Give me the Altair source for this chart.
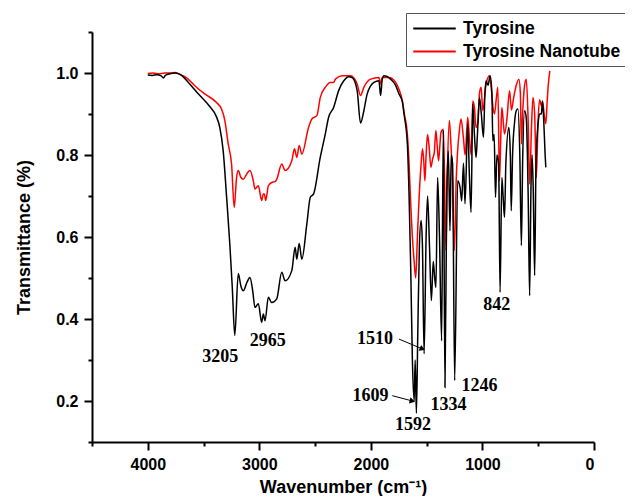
import altair as alt
import pandas as pd

# ---- data ----
tyr_wn = [4000, 3960, 3920, 3880, 3860, 3840, 3800, 3760, 3730, 3700, 3640, 3550, 3450, 3384, 3354,
          3324, 3294, 3264, 3243, 3220, 3189, 3165, 3144, 3110, 3084, 3060, 3039, 3009, 2979, 2964,
          2949, 2919, 2889, 2844, 2799, 2769, 2709, 2679, 2664, 2643, 2619, 2574, 2543, 2514, 2454,
          2409, 2379, 2334, 2289, 2243, 2198, 2168, 2123, 2093, 2063, 2033, 1973, 1928, 1913, 1898,
          1883, 1823, 1778, 1748, 1718, 1703, 1673, 1658, 1643, 1628, 1612, 1603, 1592, 1580, 1565,
          1550, 1538, 1523, 1505, 1492, 1475, 1458, 1441, 1428, 1417, 1402, 1385, 1366, 1351, 1336,
          1320, 1306, 1291, 1280, 1268, 1249, 1222, 1200, 1186, 1170, 1156, 1132, 1117, 1102, 1087,
          1072, 1057, 1045, 1027, 1010, 991, 978, 967, 950, 931, 915, 907, 895, 883, 870,
          855, 842, 826, 815, 802, 790, 763, 750, 742, 730, 712, 697, 682, 665, 651,
          640, 622, 607, 590, 577, 565, 555, 545, 532, 520, 500, 487, 472, 462, 450,
          438, 432]
tyr_t = [0.995, 0.994, 0.996, 0.993, 0.988, 0.995, 0.998, 1.0, 0.999, 0.995, 0.978, 0.95, 0.92, 0.893, 0.867,
         0.81, 0.70, 0.58, 0.48, 0.36, 0.511, 0.48, 0.469, 0.49, 0.501, 0.47, 0.428, 0.437, 0.392, 0.412,
         0.396, 0.453, 0.44, 0.449, 0.514, 0.493, 0.518, 0.575, 0.546, 0.584, 0.546, 0.632, 0.697, 0.705, 0.794,
         0.851, 0.892, 0.916, 0.957, 0.981, 0.991, 0.989, 0.957, 0.878, 0.908, 0.949, 0.977, 0.981, 0.945, 0.985,
         0.993, 0.985, 0.97, 0.949, 0.93, 0.90, 0.827, 0.705, 0.526, 0.30, 0.20, 0.30, 0.17, 0.36, 0.58,
         0.64, 0.58, 0.315, 0.60, 0.70, 0.58, 0.445, 0.54, 0.50, 0.477, 0.745, 0.60, 0.347, 0.86, 0.233,
         0.70, 0.81, 0.615, 0.80, 0.78, 0.25, 0.737, 0.72, 0.688, 0.78, 0.681, 0.876, 0.75, 0.66, 0.924,
         0.85, 0.794, 0.85, 0.94, 0.90, 0.843, 0.95, 0.981, 0.97, 0.993, 0.95, 0.835, 0.85, 0.697, 0.80,
         0.78, 0.465, 0.745, 0.70, 0.648, 0.78, 0.867, 0.80, 0.664, 0.80, 0.88, 0.908, 0.912, 0.80, 0.579,
         0.78, 0.908, 0.89, 0.70, 0.457, 0.72, 0.80, 0.72, 0.506, 0.78, 0.88, 0.90, 0.90, 0.932, 0.88,
         0.80, 0.77]

nano_wn = [4000, 3950, 3900, 3850, 3800, 3750, 3730, 3700, 3655, 3579, 3489, 3384, 3339, 3309, 3279,
           3249, 3225, 3204, 3189, 3165, 3144, 3110, 3084, 3054, 3039, 3009, 2979, 2964, 2955, 2943,
           2919, 2889, 2859, 2844, 2799, 2769, 2709, 2685, 2664, 2643, 2619, 2559, 2529, 2484, 2454,
           2409, 2364, 2334, 2318, 2259, 2183, 2123, 2093, 2063, 2003, 1928, 1913, 1898, 1838, 1778,
           1748, 1718, 1700, 1673, 1658, 1643, 1628, 1612, 1598, 1583, 1567, 1552, 1537, 1525, 1516,
           1505, 1492, 1478, 1462, 1447, 1432, 1417, 1405, 1393, 1380, 1372, 1351, 1340, 1327, 1315,
           1297, 1285, 1270, 1252, 1235, 1207, 1192, 1170, 1155, 1132, 1117, 1100, 1087, 1072, 1057,
           1040, 1027, 1012, 997, 967, 937, 920, 907, 892, 875, 862, 847, 835, 826, 810,
           802, 780, 757, 740, 720, 697, 673, 660, 651, 640, 622, 607, 592, 577, 560,
           547, 532, 517, 502, 487, 472, 460, 447, 432, 420, 410, 396]
nano_t = [0.999, 1.0, 0.998, 1.0, 1.0, 1.001, 0.999, 0.995, 0.989, 0.969, 0.949, 0.928, 0.912, 0.884, 0.827,
          0.778, 0.672, 0.745, 0.762, 0.745, 0.741, 0.755, 0.762, 0.737, 0.717, 0.725, 0.689, 0.705, 0.705, 0.689,
          0.725, 0.733, 0.735, 0.741, 0.778, 0.762, 0.786, 0.815, 0.794, 0.823, 0.802, 0.867, 0.888, 0.896, 0.94,
          0.965, 0.977, 0.977, 0.985, 0.993, 0.993, 0.973, 0.945, 0.965, 0.985, 0.989, 0.973, 0.989, 0.989, 0.977,
          0.96, 0.932, 0.90, 0.851, 0.78, 0.68, 0.60, 0.54, 0.50, 0.60, 0.70, 0.77, 0.815, 0.78, 0.737,
          0.80, 0.85, 0.82, 0.77, 0.79, 0.806, 0.86, 0.82, 0.786, 0.83, 0.855, 0.863, 0.75, 0.567, 0.75,
          0.884, 0.84, 0.75, 0.567, 0.74, 0.859, 0.888, 0.84, 0.80, 0.892, 0.843, 0.80, 0.932, 0.916, 0.867,
          0.88, 0.949, 0.965, 0.908, 0.973, 0.993, 0.96, 0.92, 0.90, 0.94, 0.965, 0.737, 0.85, 0.916, 0.87,
          0.851, 0.89, 0.957, 0.91, 0.94, 0.97, 0.985, 0.95, 0.827, 0.90, 0.97, 0.985, 0.90, 0.729, 0.87,
          0.94, 0.90, 0.745, 0.88, 0.935, 0.92, 0.93, 0.90, 0.876, 0.93, 0.97, 1.005]

series_names = ["Tyrosine", "Tyrosine Nanotube"]
series_colors = ["black", "red"]

peak_labels = ["3205", "2965", "1510", "1609", "1592", "1334", "1246", "842"]
peak_label_x = [3351, 2925, 1964, 2003, 1622, 1304, 1027, 871]
peak_label_y = [0.308, 0.347, 0.351, 0.213, 0.142, 0.19, 0.237, 0.435]

arrow_x1 = [1748, 1808]
arrow_y1 = [0.351, 0.213]
arrow_x2 = [1538, 1628]
arrow_y2 = [0.327, 0.200]
arrow_angle = [23, 14]

x_ticks = [4500, 4000, 3500, 3000, 2500, 2000, 1500, 1000, 500, 0]
y_ticks = [0.1, 0.2, 0.3, 0.4, 0.5, 0.6, 0.7, 0.8, 0.9, 1.0, 1.1]

# ---- tables ----
df_tyr = pd.DataFrame({"wn": tyr_wn, "t": tyr_t, "series": series_names[0]})
df_nano = pd.DataFrame({"wn": nano_wn, "t": nano_t, "series": series_names[1]})
df_lab = pd.DataFrame({"label": peak_labels, "x": peak_label_x, "y": peak_label_y})
df_arr = pd.DataFrame({"x1": arrow_x1, "y1": arrow_y1, "x2": arrow_x2, "y2": arrow_y2, "ang": arrow_angle})

xscale = alt.Scale(domain=[4500, 0], nice=False)
yscale = alt.Scale(domain=[0.1, 1.1], nice=False, zero=False)

x_major = "datum.value % 1000 == 0"
y_major = "round(datum.value*10) % 2 == 0"

xaxis = alt.Axis(values=x_ticks, title="Wavenumber (cm⁻¹)",
                 labelExpr=f"{x_major} ? datum.label : ''",
                 tickSize={"condition": {"test": x_major, "value": 8}, "value": 4},
                 format="d", grid=False)
yaxis = alt.Axis(values=y_ticks, title="Transmittance (%)", format=".1f",
                 labelExpr=f"({y_major}) ? datum.label : ''",
                 tickSize={"condition": {"test": y_major, "value": 8}, "value": 4},
                 grid=False)

color = alt.Color("series:N",
                  scale=alt.Scale(domain=series_names, range=series_colors),
                  legend=alt.Legend(title=None, orient="none", legendX=314, legendY=-19))

base_x = alt.X("wn:Q", scale=xscale, axis=xaxis)
base_y = alt.Y("t:Q", scale=yscale, axis=yaxis)

red_line = alt.Chart(df_nano).mark_line(strokeWidth=1.5, interpolate="monotone").encode(
    x=base_x, y=base_y, color=color)
black_line = alt.Chart(df_tyr).mark_line(strokeWidth=1.5, interpolate="monotone").encode(
    x=alt.X("wn:Q", scale=xscale), y=alt.Y("t:Q", scale=yscale), color=color)

labels = alt.Chart(df_lab).mark_text(font="Liberation Serif", fontWeight="bold", fontSize=18,
                                     color="black").encode(
    x=alt.X("x:Q", scale=xscale), y=alt.Y("y:Q", scale=yscale), text="label:N")

arrow_lines = alt.Chart(df_arr).mark_rule(color="black", strokeWidth=1).encode(
    x=alt.X("x1:Q", scale=xscale), y=alt.Y("y1:Q", scale=yscale),
    x2="x2:Q", y2="y2:Q")
arrow_heads = alt.Chart(df_arr).mark_point(shape="triangle-right", filled=True, color="black",
                                           size=40, opacity=1).encode(
    x=alt.X("x2:Q", scale=xscale), y=alt.Y("y2:Q", scale=yscale), angle=alt.Angle("ang:Q", scale=None))

chart = alt.layer(red_line, black_line, arrow_lines, arrow_heads, labels).properties(
    width=502, height=410,
    autosize=alt.AutoSizeParams(type="none"),
    padding={"left": 84, "top": 24, "right": 31, "bottom": 54},
).configure_view(stroke=None).configure_axis(
    domainColor="black", domainWidth=2, tickColor="black", tickWidth=2,
    labelFont="Liberation Sans", labelFontWeight="bold", labelFontSize=16, labelColor="black",
    titleFont="Liberation Sans", titleFontWeight="bold", titleFontSize=18, titleColor="black",
    labelPadding=6,
).configure_axisY(titlePadding=22).configure_axisX(titlePadding=6).configure_legend(
    strokeColor="#555", fillColor="white", padding=6,
    labelFont="Liberation Sans", labelFontWeight="bold", labelFontSize=17.5, labelColor="black",
    labelLimit=400,
    symbolType="M-2.5,0H2.5", symbolStrokeWidth=2, symbolSize=289, symbolOffset=13,
    labelOffset=19, rowPadding=5,
)

chart.save("out.html", embed_options={"renderer": "svg", "actions": False})
